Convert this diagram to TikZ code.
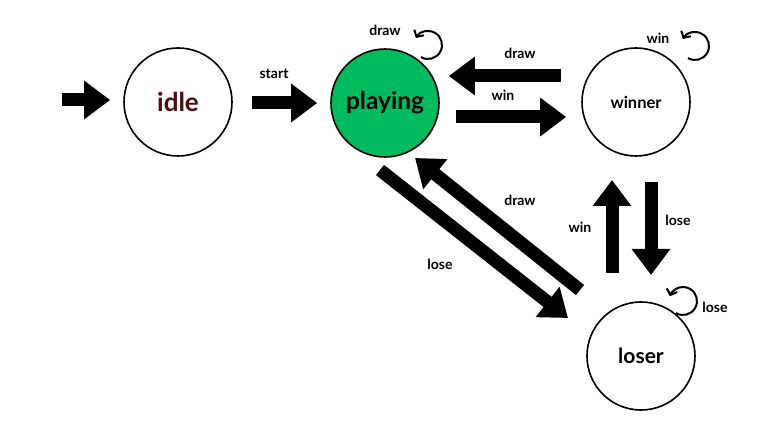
\documentclass[tikz,border=0pt]{standalone}
\usepackage{fontspec}
\setmainfont{Lato}
\usetikzlibrary{arrows.meta,calc}
\definecolor{playgreen}{HTML}{00BB5E}
\definecolor{idlered}{HTML}{4A0C0C}

\begin{document}
\begin{tikzpicture}[
    x=1pt, y=1pt,
    state/.style={circle, draw=black, line width=1.6pt, fill=white, minimum size=108pt, inner sep=0pt, font=\bfseries},
    blockarrow/.style={line width=13pt, -{Triangle[length=26pt,width=37pt]}},
    selfloop/.style={line width=2pt, -{Straight Barb[length=5pt,width=11pt]}},
    lbl/.style={font=\bfseries\fontsize{14}{16}\selectfont, inner sep=1pt}
  ]
    \useasboundingbox (0,0) rectangle (773,423);
    \fill[white] (0,0) rectangle (773,423);
    % states
    \node[state, font=\bfseries\fontsize{26}{30}\selectfont, text=idlered] (idle) at (178,321) {idle};
    \node[state, fill=playgreen, font=\bfseries\fontsize{24.5}{28}\selectfont] (playing) at (385,320) {playing};
    \node[state, font=\bfseries\fontsize{16.5}{19}\selectfont] (winner) at (636,321) {winner};
    \node[state, font=\bfseries\fontsize{21}{24}\selectfont] (loser) at (641,67) {loser};
    % entry
    \coordinate (entry) at (62,323);
    \draw[blockarrow] (entry) -- ($(idle.west)+(-13,2)$);
    % transitions
    \draw[blockarrow] ($(idle.east)+(19,-1)$) -- ($(playing.west)+(-13,0)$);
    \draw[blockarrow] ($(winner.west)+(-20,26)$) -- ($(playing.east)+(9,27)$);
    \draw[blockarrow] ($(playing.east)+(16,-14)$) -- ($(winner.west)+(-15,-15)$);
    \draw[blockarrow] ($(playing.center)+(-5,-67)$) -- ($(loser.center)+(-73,38)$);
    \draw[blockarrow] ($(loser.center)+(-61,66)$) -- ($(playing.center)+(30,-55)$);
    \draw[blockarrow] ($(loser.center)+(-29,83)$) -- ($(winner.center)+(-24,-78)$);
    \draw[blockarrow] ($(winner.center)+(15,-80)$) -- ($(loser.center)+(10,81)$);
    % self loops
    \coordinate (playloop) at ($(playing.center)+(43,58)$);
    \coordinate (winloop) at ($(winner.center)+(59,56)$);
    \coordinate (loseloop) at ($(loser.center)+(42,55)$);
    \draw[selfloop] ($(playloop)+(-120:14)$) arc[start angle=-120, end angle=150, radius=14];
    \draw[selfloop] ($(winloop)+(-120:14)$) arc[start angle=-120, end angle=150, radius=14];
    \draw[selfloop] ($(loseloop)+(-120:14)$) arc[start angle=-120, end angle=160, radius=14];
    % labels
    \node[lbl] (lstart) at (274,349) {start};
    \node[lbl] (lplaydraw) at (385,393) {draw};
    \node[lbl] (ldrawback) at (520,370) {draw};
    \node[lbl] (lwin) at (503,328) {win};
    \node[lbl] (lwinloop) at (658,385) {win};
    \node[lbl] (ldrawdiag) at (520,223) {draw};
    \node[lbl] (llosediag) at (440,159) {lose};
    \node[lbl] (lwinup) at (580,196) {win};
    \node[lbl] (llosedown) at (678,203) {lose};
    \node[lbl] (lloseloop) at (715,116) {lose};
  \end{tikzpicture}
\end{document}
